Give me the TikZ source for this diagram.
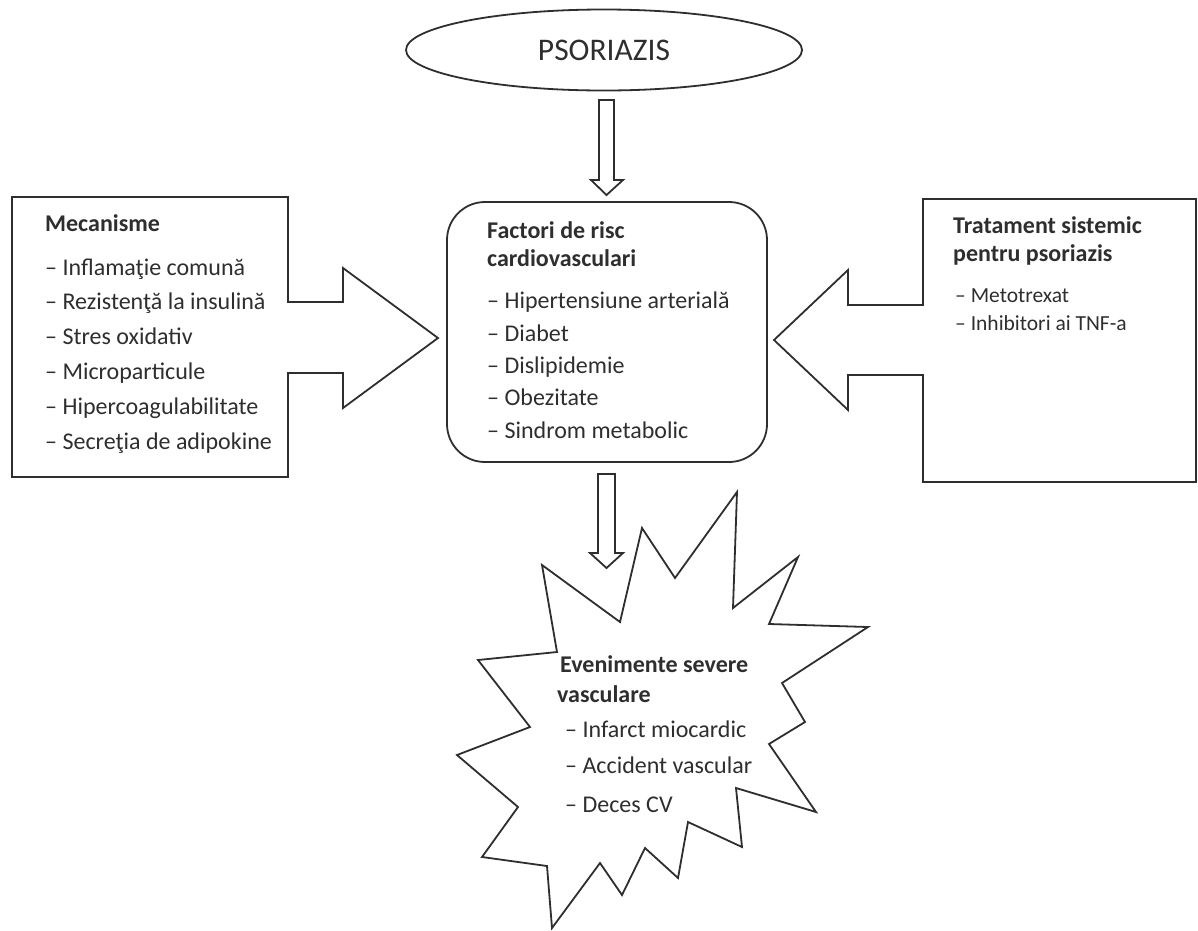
\documentclass[tikz,border=0pt]{standalone}
\usepackage{fontspec}
\setmainfont{Carlito}
\usetikzlibrary{shapes.geometric}
\definecolor{ink}{HTML}{2E2E2E}
\tikzset{
  outl/.style={draw=ink, line width=1.8pt, line join=miter},
  txt/.style={anchor=base west, inner sep=0pt, text=ink, font=\fontsize{24}{28}\selectfont},
  ttl/.style={txt, font=\fontsize{24}{28}\selectfont\bfseries},
  small/.style={txt, font=\fontsize{21.5}{25}\selectfont},
}
\begin{document}
\begin{tikzpicture}[x=1pt,y=-1pt]
\useasboundingbox (0,0) rectangle (1198,930);
% top ellipse
\node[outl, ellipse, minimum width=396pt, minimum height=81pt, inner sep=0pt,
      text=ink, font=\fontsize{31.5}{34}\selectfont] (psor) at (604,50) {PSORIAZIS};
% central rounded box
\node[outl, rounded corners=38pt, minimum width=320pt, minimum height=260pt] (risk) at (607,332) {};
% top block arrow
\draw[outl] (599,100) -- (614,100) -- (614,180) -- (623,180) -- (606.5,195) -- (591,180) -- (599,180) -- cycle;
% bottom block arrow
\draw[outl] (598,474) -- (615,474) -- (615,553) -- (623,553) -- (606.5,568) -- (590,553) -- (598,553) -- cycle;
% left box with arrow
\draw[outl] (12,197) -- (288,197) -- (288,302) -- (343,302) -- (343,268) -- (438,338) -- (343,408) -- (343,373) -- (288,373) -- (288,477) -- (12,477) -- cycle;
% right box with arrow
\draw[outl] (1196,199) -- (923,199) -- (923,305) -- (848,305) -- (848,270) -- (774,340) -- (848,410) -- (848,375) -- (923,375) -- (923,482) -- (1196,482) -- cycle;
% starburst
\draw[outl] (542,565) -- (620,622) -- (642,528) -- (675,578) -- (737,492) -- (733,608) -- (798,557) -- (769,624) -- (868,627) -- (782,683) -- (805,722) -- (769,744) -- (816,812) -- (736,788) -- (742,847) -- (688,822) -- (678,878) -- (645,848) -- (622,895) -- (600,863) -- (552,928) -- (547,866) -- (482,857) -- (518,807) -- (457,755) -- (530,727) -- (478,660) -- (557,652) -- cycle;
% left texts
\node[ttl] (m0) at (45,231) {Mecanisme};
\node[txt] (m1) at (45,275) {– Inflamaţie comună};
\node[txt] (m2) at (45,309) {– Rezistenţă la insulină};
\node[txt] (m3) at (45,344) {– Stres oxidativ};
\node[txt] (m4) at (45,379) {– Microparticule};
\node[txt] (m5) at (45,414) {– Hipercoagulabilitate};
\node[txt] (m6) at (45,449) {– Secreţia de adipokine};
% center texts
\node[ttl] (f0) at (487,238) {Factori de risc};
\node[ttl] (f1) at (487,266) {cardiovasculari};
\node[txt] (f2) at (487,308) {– Hipertensiune arterială};
\node[txt] (f3) at (487,341) {– Diabet};
\node[txt] (f4) at (487,373) {– Dislipidemie};
\node[txt] (f5) at (487,405) {– Obezitate};
\node[txt] (f6) at (487,438) {– Sindrom metabolic};
% right texts
\node[ttl] (t0) at (953,233) {Tratament sistemic};
\node[ttl] (t1) at (953,261) {pentru psoriazis};
\node[small] (t2) at (955,302) {– Metotrexat};
\node[small] (t3) at (955,330) {– Inhibitori ai TNF-a};
% star texts
\node[ttl] (e0) at (560,672) {Evenimente severe};
\node[ttl] (e1) at (557,702) {vasculare};
\node[txt] (e2) at (565,737) {– Infarct miocardic};
\node[txt] (e3) at (565,773) {– Accident vascular};
\node[txt] (e4) at (565,812) {– Deces CV};
\end{tikzpicture}
\end{document}
